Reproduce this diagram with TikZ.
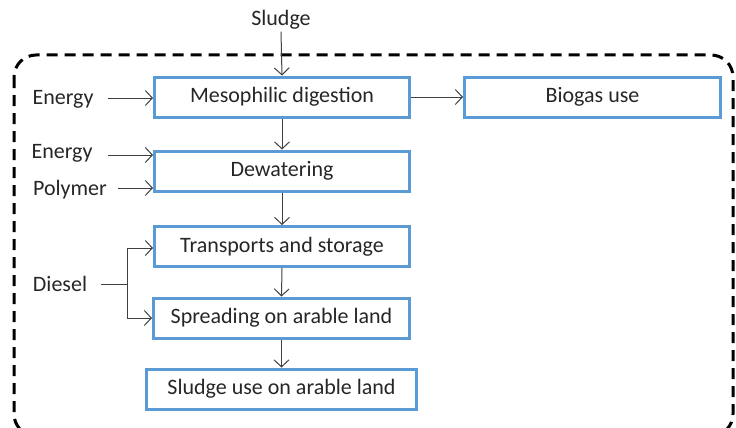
\documentclass[tikz,border=0pt]{standalone}
\usepackage{fontspec}
\setmainfont{Carlito}
\usetikzlibrary{arrows.meta}
\definecolor{boxblue}{RGB}{91,155,213}
\definecolor{linegray}{RGB}{64,64,64}
\begin{document}
\begin{tikzpicture}[x=1pt,y=-1pt,
  procbox/.style={draw=boxblue,line width=3pt,minimum height=40pt,inner sep=0pt,font=\fontsize{22}{24}\selectfont,text=black!85},
  lbl/.style={font=\fontsize{22}{24}\selectfont,text=black!85,inner sep=2pt},
  arr/.style={draw=linegray,line width=1pt,-{Straight Barb[length=7pt,width=15pt]}},
  ln/.style={draw=linegray,line width=1pt}]
\useasboundingbox (0,0) rectangle (736,428);
\begin{scope}
\clip (0,0) rectangle (736,428);
\draw[line width=3pt,dash pattern=on 11pt off 7pt,rounded corners=22pt] (14,55) rectangle (733,436);
\end{scope}
\node[procbox,minimum width=255pt] (meso) at (282,97) {Mesophilic digestion};
\node[procbox,minimum width=256pt] (bio) at (592.5,97) {Biogas use};
\node[procbox,minimum width=255pt] (dew) at (282,171) {Dewatering};
\node[procbox,minimum width=255pt] (trans) at (282,246.5) {Transports and storage};
\node[procbox,minimum width=256pt] (spread) at (281.5,318) {Spreading on arable land};
\node[procbox,minimum width=270pt] (use) at (281.5,389) {Sludge use on arable land};
\node[lbl] (sludge) at (281,20) {Sludge};
\node[lbl] (e1) at (63,99) {Energy};
\node[lbl] (e2) at (62,153) {Energy};
\node[lbl] (poly) at (70,190) {Polymer};
\node[lbl] (diesel) at (60,284) {Diesel};
\coordinate (dj) at (127,284);
\draw[arr] (sludge.south) -- (meso.north);
\draw[arr] (meso.east) -- (bio.west);
\draw[arr] (meso.south) -- (dew.north);
\draw[arr] (dew.south) -- (trans.north);
\draw[arr] (trans.south) -- (spread.north);
\draw[arr] (spread.south) -- (use.north);
\draw[arr] (108,98) coordinate (e1s) -- (e1s -| meso.west);
\draw[arr] (108,155) coordinate (e2s) -- (e2s -| dew.west);
\draw[arr] (118,188) coordinate (ps) -- (ps -| dew.west);
\draw[ln] (101,284) -- (dj);
\draw[arr] (dj) |- ([yshift=-1.5pt]trans.west);
\draw[arr] (dj) |- (spread.west);
\end{tikzpicture}
\end{document}
